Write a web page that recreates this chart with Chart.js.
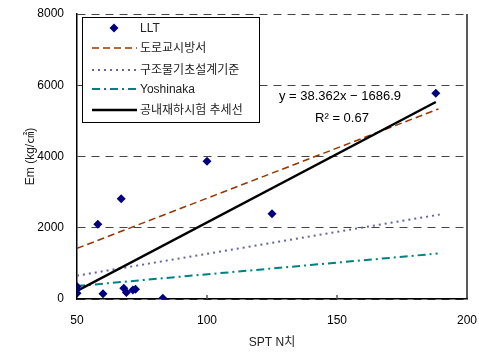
<!DOCTYPE html>
<html>
<head>
<meta charset="utf-8">
<script src="https://cdn.jsdelivr.net/npm/chart.js@4.4.0/dist/chart.umd.min.js"></script>
<style>
    html, body { margin: 0; padding: 0; background: #fff; }
    #wrap { width: 479px; height: 353px; }
</style>
</head>
<body>
<div id="wrap"><canvas id="myChart"></canvas></div>
<script>
// measured points (LLT)
const lltX = [50, 50, 50, 58, 60, 67, 68, 69, 71.5, 72.5, 83, 100, 125, 188];
const lltY = [350, 280, 160, 2100, 150, 2815, 300, 180, 255, 275, 20, 3865, 2395, 5775];

// reference lines, read at both ends
const roadX = [50, 189];
const roadY = [1420, 5335];
const codeX = [50, 189.5];
const codeY = [655, 2370];
const yoshiX = [50, 188.7];
const yoshiY = [365, 1275];
const trendX = [50, 188];
const trendY = [230, 5530];

const seriesNames = ['LLT', '도로교시방서', '구조물기초설계기준', 'Yoshinaka', '공내재하시험 추세선'];
const xTicks = [50, 100, 150, 200];
const yTicks = [0, 2000, 4000, 6000, 8000];

const FONT = "'Liberation Sans', Arial, 'Noto Sans CJK KR', sans-serif";

function pts(xs, ys) {
    return xs.map((x, k) => ({ x: x, y: ys[k] }));
}

// drop the label overflow padding so the layout padding decides the plot box
function noPad(s) {
    s.paddingTop = 0;
    s.paddingBottom = 0;
    s.paddingLeft = 0;
    s.paddingRight = 0;
}

const extras = {
    id: 'extras',
    afterDraw(chart) {
        const ctx = chart.ctx;
        const a = chart.chartArea;
        const xs = chart.scales.x;
        ctx.save();

        // right frame line
        ctx.strokeStyle = '#222';
        ctx.lineWidth = 1.5;
        ctx.beginPath();
        ctx.moveTo(a.right, a.top);
        ctx.lineTo(a.right, a.bottom);
        ctx.stroke();

        // small inward x ticks
        ctx.strokeStyle = '#555';
        ctx.lineWidth = 1.5;
        [100, 150].forEach(v => {
            const px = xs.getPixelForValue(v);
            ctx.beginPath();
            ctx.moveTo(px, a.bottom);
            ctx.lineTo(px, a.bottom - 4);
            ctx.stroke();
        });

        // regression text
        ctx.fillStyle = '#000';
        ctx.font = '13px ' + FONT;
        ctx.textAlign = 'center';
        ctx.textBaseline = 'middle';
        ctx.fillText('y = 38.362x − 1686.9', 340, 96);
        ctx.fillText('R² = 0.67', 342, 118);

        // legend box
        const bx = 82, by = 17, bw = 177, bh = 105;
        ctx.fillStyle = '#fff';
        ctx.fillRect(bx, by, bw, bh);
        ctx.strokeStyle = '#000';
        ctx.lineWidth = 1;
        ctx.strokeRect(bx + 0.5, by + 0.5, bw, bh);

        const rows = [28, 48, 70, 89, 110];
        chart.data.datasets.forEach((ds, k) => {
            const y = rows[k];
            if (k === 0) {
                ctx.fillStyle = ds.backgroundColor;
                ctx.beginPath();
                ctx.moveTo(114, y - 4.5);
                ctx.lineTo(118.5, y);
                ctx.lineTo(114, y + 4.5);
                ctx.lineTo(109.5, y);
                ctx.closePath();
                ctx.fill();
            } else {
                ctx.strokeStyle = ds.borderColor;
                ctx.lineWidth = ds.borderWidth;
                ctx.setLineDash(ds.borderDash || []);
                ctx.beginPath();
                ctx.moveTo(92, y);
                ctx.lineTo(137, y);
                ctx.stroke();
                ctx.setLineDash([]);
            }
            ctx.fillStyle = '#222';
            ctx.font = '12px ' + FONT;
            ctx.textAlign = 'left';
            ctx.fillText(ds.label, 140, y + 1);
        });
        ctx.restore();
    }
};

new Chart(document.getElementById('myChart'), {
    type: 'scatter',
    data: {
        datasets: [
            {
                label: seriesNames[0],
                data: pts(lltX, lltY),
                pointStyle: 'rectRot',
                pointRadius: 4.5,
                backgroundColor: '#000080',
                borderColor: '#000080',
                borderWidth: 0,
                order: 0
            },
            {
                label: seriesNames[1],
                data: pts(roadX, roadY),
                showLine: true,
                pointRadius: 0,
                borderColor: '#993300',
                borderWidth: 1.5,
                borderDash: [7, 4],
                order: 2
            },
            {
                label: seriesNames[2],
                data: pts(codeX, codeY),
                showLine: true,
                pointRadius: 0,
                borderColor: '#666699',
                borderWidth: 2,
                borderDash: [2, 4],
                order: 2
            },
            {
                label: seriesNames[3],
                data: pts(yoshiX, yoshiY),
                showLine: true,
                pointRadius: 0,
                borderColor: '#008080',
                borderWidth: 2,
                borderDash: [8, 4, 2, 4],
                order: 2
            },
            {
                label: seriesNames[4],
                data: pts(trendX, trendY),
                showLine: true,
                pointRadius: 0,
                borderColor: '#000',
                borderWidth: 2.5,
                order: 1
            }
        ]
    },
    options: {
        responsive: true,
        maintainAspectRatio: false,
        animation: false,
        layout: { padding: { top: 14, right: 12, left: 0, bottom: 0 } },
        plugins: {
            legend: { display: false },
            tooltip: { enabled: false }
        },
        scales: {
            x: {
                type: 'linear',
                min: 50,
                max: 200,
                afterBuildTicks: s => { s.ticks = xTicks.map(v => ({ value: v })); },
                afterFit: s => { s.height = 54; noPad(s); },
                ticks: {
                    color: '#000', padding: 14, font: { family: FONT, size: 12 },
                    callback: v => String(v)
                },
                grid: { drawOnChartArea: false, drawTicks: false },
                border: { display: true, color: '#000', width: 1.5 },
                title: {
                    display: true,
                    text: 'SPT N치',
                    color: '#222',
                    font: { family: FONT, size: 12 },
                    padding: { top: 0, bottom: 3 }
                }
            },
            y: {
                min: 0,
                max: 8000,
                afterBuildTicks: s => { s.ticks = yTicks.map(v => ({ value: v })); },
                afterFit: s => { s.width = 77; noPad(s); },
                ticks: {
                    color: '#000', padding: 13, font: { family: FONT, size: 12 },
                    callback: v => String(v)
                },
                grid: { color: '#444', lineWidth: 1, drawTicks: false },
                border: { display: true, color: '#000', width: 1.5, dash: [8, 6] },
                title: {
                    display: true,
                    text: 'Em (kg/㎠)',
                    color: '#222',
                    font: { family: FONT, size: 12 },
                    padding: { top: 23, bottom: 0 }
                }
            }
        }
    },
    plugins: [extras]
});
</script>
</body>
</html>
